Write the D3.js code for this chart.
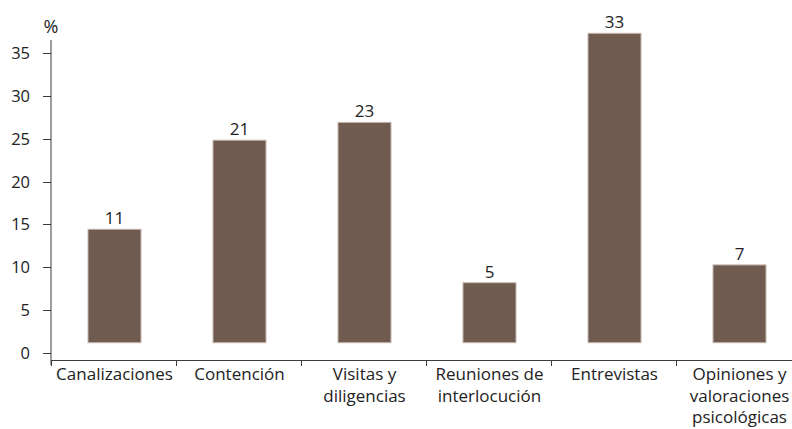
<!DOCTYPE html>
<html>
<head>
<meta charset="utf-8">
<script src="https://cdn.jsdelivr.net/npm/d3@7"></script>
<style>
  html, body { margin: 0; padding: 0; background: #fff; }
  svg { display: block; }
  text { font-family: "Open Sans", "DejaVu Sans", sans-serif; fill: #222; }
</style>
</head>
<body>
<div id="chart"></div>
<script>
// ---- data ----
const categories = [
  ["Canalizaciones"],
  ["Contención"],
  ["Visitas y", "diligencias"],
  ["Reuniones de", "interlocución"],
  ["Entrevistas"],
  ["Opiniones y", "valoraciones", "psicológicas"]
];
const values = [11, 21, 23, 5, 33, 7];
const yTicks = [0, 5, 10, 15, 20, 25, 30, 35];
const yUnit = "%";

// ---- layout ----
const W = 792, H = 429;
const svg = d3.select("#chart").append("svg").attr("width", W).attr("height", H);

const x = d3.scaleBand().domain(d3.range(categories.length)).range([51, 801]).padding(0);
const y = d3.scaleLinear().domain([0, 35]).range([353, 53]);
// bars are drawn on their own (offset) scale, as in the source figure
const barBase = y(1.2);
const yBar = d3.scaleLinear().domain([5, 33]).range([y(8.2), y(37.3)]);
const barW = x.bandwidth() * 0.424;

const axisColor = "#3a3a3a";

// y axis
const yAxis = svg.append("g");
yAxis.append("line")
  .attr("x1", 51).attr("x2", 51).attr("y1", 40).attr("y2", 365)
  .attr("stroke", axisColor).attr("stroke-width", 1);
yAxis.selectAll("line.tick").data(yTicks).join("line")
  .attr("class", "tick")
  .attr("x1", 43).attr("x2", 51)
  .attr("y1", d => Math.round(y(d)) + 0.5).attr("y2", d => Math.round(y(d)) + 0.5)
  .attr("stroke", axisColor);
yAxis.selectAll("text").data(yTicks).join("text")
  .attr("x", 30).attr("y", d => y(d))
  .attr("dy", "0.36em")
  .attr("text-anchor", "end")
  .attr("font-size", 16.5)
  .text(d => d);
svg.append("text")
  .attr("x", 51).attr("y", 33)
  .attr("text-anchor", "middle")
  .attr("font-size", 18)
  .text(yUnit);

// x axis
const xAxis = svg.append("g");
xAxis.append("line")
  .attr("x1", 51).attr("x2", 801).attr("y1", 360.5).attr("y2", 360.5)
  .attr("stroke", axisColor);
xAxis.selectAll("line.sep").data(d3.range(categories.length + 1)).join("line")
  .attr("class", "sep")
  .attr("x1", d => Math.round(51 + d * x.step()) + 0.5)
  .attr("x2", d => Math.round(51 + d * x.step()) + 0.5)
  .attr("y1", 360).attr("y2", 366)
  .attr("stroke", axisColor);
const catLabels = xAxis.selectAll("text").data(categories).join("text")
  .attr("x", (d, i) => x(i) + x.bandwidth() / 2 + 1)
  .attr("y", 380)
  .attr("text-anchor", "middle")
  .attr("font-size", 17);
catLabels.selectAll("tspan").data(d => d).join("tspan")
  .attr("x", function() { return this.parentNode.getAttribute("x"); })
  .attr("dy", (d, i) => i === 0 ? 0 : 21.5)
  .text(d => d);

// bars
svg.append("g").selectAll("rect").data(values).join("rect")
  .attr("x", (d, i) => x(i) + (x.bandwidth() - barW) / 2 + 1)
  .attr("y", d => yBar(d))
  .attr("width", barW)
  .attr("height", d => barBase - yBar(d))
  .attr("fill", "#6f5b50")
  .attr("stroke", "#c8b7af")
  .attr("stroke-width", 1);

// value labels
svg.append("g").selectAll("text").data(values).join("text")
  .attr("x", (d, i) => x(i) + x.bandwidth() / 2 + 1)
  .attr("y", d => yBar(d) - 5)
  .attr("text-anchor", "middle")
  .attr("font-size", 17)
  .text(d => d);
</script>
</body>
</html>
